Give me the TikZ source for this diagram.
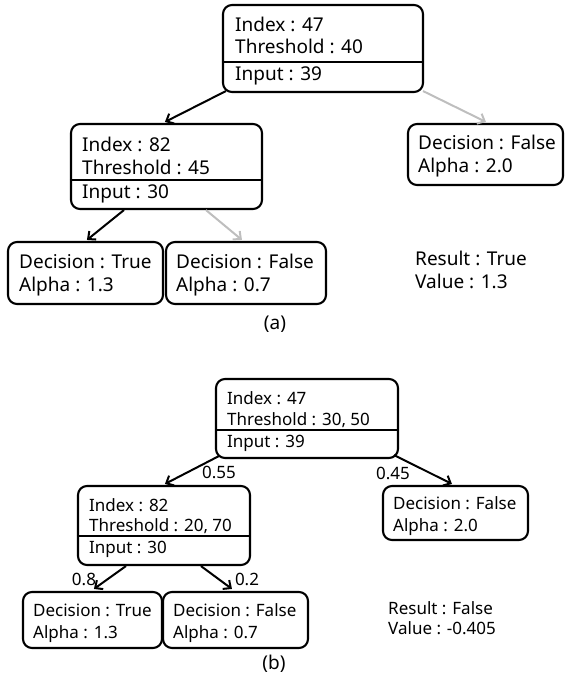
\documentclass[tikz,border=0pt]{standalone}
\usepackage{fontspec}
\setmainfont{Noto Sans}
\usetikzlibrary{arrows.meta}
\definecolor{lightarrow}{RGB}{190,190,190}
\tikzset{
  box/.style={draw, line width=2.1pt, rounded corners=9pt, inner sep=0pt},
  ta/.style={inner sep=0pt, anchor=west, yshift=-3pt, text height=0.72em, text depth=0pt, font=\fontsize{19}{23}\selectfont},
  tb/.style={inner sep=0pt, anchor=west, yshift=-3pt, text height=0.72em, text depth=0pt, font=\fontsize{17}{20}\selectfont},
  conn/.style={line width=2pt, -{Straight Barb[length=6pt,width=11pt]}},
  weak/.style={conn, draw=lightarrow},
  divider/.style={line width=1.7pt},
  plab/.style={inner sep=0pt, yshift=-3pt, text height=0.72em, text depth=0pt, font=\fontsize{17}{20}\selectfont}
}
\begin{document}
\begin{tikzpicture}[x=1pt,y=-1pt]
\useasboundingbox (0,0) rectangle (566,683);
% ---------------- (a) ----------------
\node[box, minimum width=200pt, minimum height=87pt] (ra) at (323,48.5) {};
\draw[divider] (ra.west |- 0,62) -- (ra.east |- 0,62);
\node[ta] (ra1) at (235,25) {Index : 47};
\node[ta] (ra2) at (235,47) {Threshold : 40};
\node[ta] (ra3) at (235,74) {Input : 39};

\node[box, minimum width=155pt, minimum height=61pt] (la) at (485.5,154.5) {};
\node[ta] (la1) at (418,143) {Decision : False};
\node[ta] (la2) at (418,166) {Alpha : 2.0};

\node[box, minimum width=191pt, minimum height=85pt] (ma) at (166.5,166.5) {};
\draw[divider] (ma.west |- 0,180) -- (ma.east |- 0,180);
\node[ta] (ma1) at (82,145) {Index : 82};
\node[ta] (ma2) at (82,168) {Threshold : 45};
\node[ta] (ma3) at (82,192) {Input : 30};

\node[box, minimum width=155pt, minimum height=62pt] (l1a) at (85.5,273) {};
\node[ta] (l1a1) at (19,262) {Decision : True};
\node[ta] (l1a2) at (19,285) {Alpha : 1.3};

\node[box, minimum width=160pt, minimum height=62pt] (l2a) at (246,273) {};
\node[ta] (l2a1) at (176,262) {Decision : False};
\node[ta] (l2a2) at (176,285) {Alpha : 0.7};

\node[ta] (resa1) at (415,259) {Result : True};
\node[ta] (resa2) at (415,282) {Value : 1.3};
\node[plab, font=\fontsize{19}{23}\selectfont] (capa) at (275,323) {(a)};

\draw[conn] ([xshift=4pt,yshift=2pt]ra.south west) -- ([xshift=95pt,yshift=1pt]ma.north west);
\draw[weak] ([xshift=-1pt,yshift=2pt]ra.south east) -- ([xshift=79pt,yshift=1pt]la.north west);
\draw[conn] ([xshift=54pt]ma.south west) -- ([xshift=80pt,yshift=1pt]l1a.north west);
\draw[weak] ([xshift=136pt]ma.south west) -- ([xshift=77pt,yshift=1pt]l2a.north west);

% ---------------- (b) ----------------
\node[box, minimum width=182pt, minimum height=79pt] (rb) at (307,418.5) {};
\draw[divider] (rb.west |- 0,430) -- (rb.east |- 0,430);
\node[tb] (rb1) at (227,398) {Index : 47};
\node[tb] (rb2) at (227,419) {Threshold : 30, 50};
\node[tb] (rb3) at (227,441) {Input : 39};

\node[box, minimum width=145pt, minimum height=54pt] (lb) at (455.5,513) {};
\node[tb] (lb1) at (393,503) {Decision : False};
\node[tb] (lb2) at (393,525) {Alpha : 2.0};

\node[box, minimum width=172pt, minimum height=79pt] (mb) at (164,525.5) {};
\draw[divider] (mb.west |- 0,536) -- (mb.east |- 0,536);
\node[tb] (mb1) at (89,505) {Index : 82};
\node[tb] (mb2) at (89,525) {Threshold : 20, 70};
\node[tb] (mb3) at (89,547) {Input : 30};

\node[box, minimum width=139pt, minimum height=56pt] (l1b) at (92.5,620) {};
\node[tb] (l1b1) at (33,610) {Decision : True};
\node[tb] (l1b2) at (33,632) {Alpha : 1.3};

\node[box, minimum width=145pt, minimum height=56pt] (l2b) at (235.5,620) {};
\node[tb] (l2b1) at (173,610) {Decision : False};
\node[tb] (l2b2) at (173,632) {Alpha : 0.7};

\node[tb] (resb1) at (388,608) {Result : False};
\node[tb] (resb2) at (388,628) {Value : -0.405};
\node[plab, font=\fontsize{19}{23}\selectfont] (capb) at (274,663) {(b)};

\draw[conn] ([xshift=4pt,yshift=3pt]rb.south west) -- ([xshift=88pt,yshift=1pt]mb.north west);
\draw[conn] ([xshift=-5pt,yshift=4pt]rb.south east) -- ([xshift=70pt,yshift=1pt]lb.north west);
\draw[conn] ([xshift=49pt]mb.south west) -- ([xshift=72pt,yshift=2pt]l1b.north west);
\draw[conn] ([xshift=124pt]mb.south west) -- ([xshift=70pt,yshift=2pt]l2b.north west);

\node[plab] (p055) at (219,472) {0.55};
\node[plab] (p045) at (393,473) {0.45};
\node[plab] (p08) at (84,579) {0.8};
\node[plab] (p02) at (247,579) {0.2};
\end{tikzpicture}
\end{document}
